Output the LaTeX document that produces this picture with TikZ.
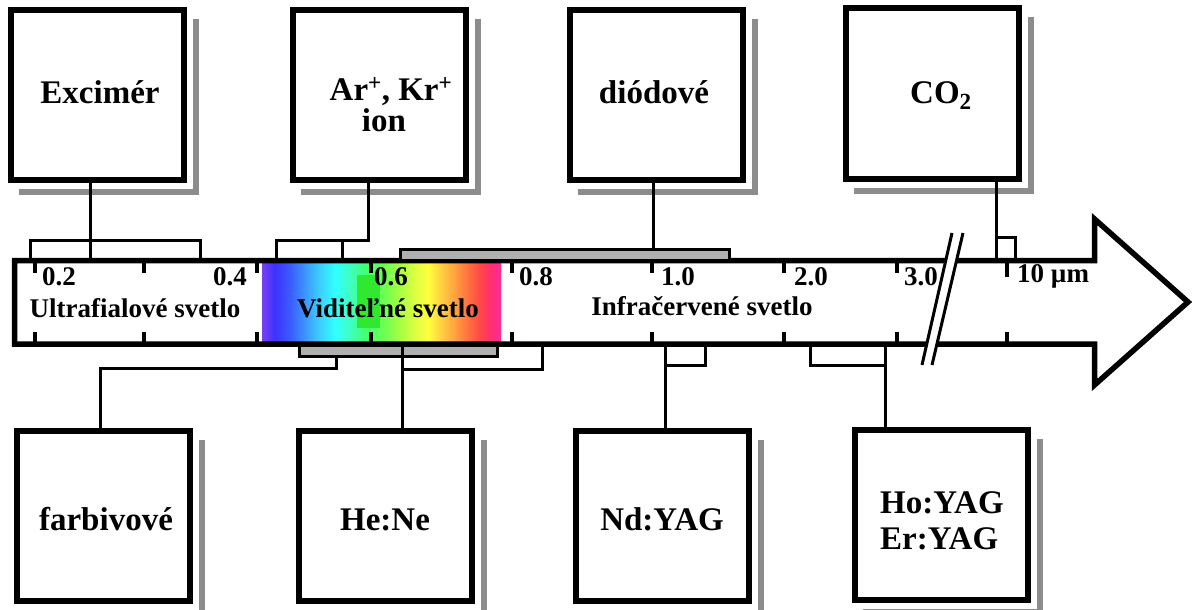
\documentclass[tikz,border=0pt]{standalone}
\usepackage{fontspec}
\setmainfont{Liberation Serif}
\usetikzlibrary{calc}
\definecolor{shadowgray}{HTML}{8C8C8C}
\definecolor{rangegray}{HTML}{B0B0B0}
\definecolor{sA}{HTML}{7A40F0}
\definecolor{sB}{HTML}{3C32FF}
\definecolor{sC}{HTML}{3A5CFF}
\definecolor{sD}{HTML}{3C96FF}
\definecolor{sE}{HTML}{3CD0FF}
\definecolor{sF}{HTML}{30FFFF}
\definecolor{sG}{HTML}{40FFC0}
\definecolor{sH}{HTML}{40FF70}
\definecolor{sI}{HTML}{70FF50}
\definecolor{sJ}{HTML}{A8FF40}
\definecolor{sK}{HTML}{DDFF40}
\definecolor{sL}{HTML}{FFFF40}
\definecolor{sM}{HTML}{FFCC40}
\definecolor{sN}{HTML}{FFA040}
\definecolor{sO}{HTML}{FF7040}
\definecolor{sP}{HTML}{FF4848}
\definecolor{sQ}{HTML}{FF3070}
\definecolor{sR}{HTML}{FF2A9A}
\definecolor{patchgreen}{HTML}{30E830}
\pgfdeclarehorizontalshading{spectrum}{100bp}{color(0bp)=(sA); color(25bp)=(sA); color(27.72bp)=(sB); color(30.86bp)=(sC); color(34bp)=(sD); color(37.13bp)=(sE); color(40.27bp)=(sF); color(43.41bp)=(sG); color(46.55bp)=(sH); color(50.73bp)=(sI); color(53.87bp)=(sJ); color(57bp)=(sK); color(59.73bp)=(sL); color(62.66bp)=(sM); color(65.38bp)=(sN); color(68.1bp)=(sO); color(70.61bp)=(sP); color(72.7bp)=(sQ); color(75bp)=(sR); color(100bp)=(sR)}
\tikzset{
  boxst/.style={draw, line width=6pt, fill=white, minimum width=173pt, minimum height=170pt, inner sep=0pt},
  shad/.style={draw=shadowgray, line width=6pt},
  conn/.style={line width=3pt},
  tickst/.style={line width=3.5pt},
  barline/.style={line width=5.5pt, line join=miter},
  gbar/.style={draw, line width=3pt, fill=rangegray, inner sep=0pt},
  bigtxt/.style={font=\fontsize{33}{36}\selectfont\bfseries, inner sep=0pt},
  bartxt/.style={font=\fontsize{27}{30}\selectfont\bfseries, inner sep=0pt},
}
\begin{document}
\begin{tikzpicture}[x=1pt,y=-1pt]
\clip (0,0) rectangle (1196,610);
\fill[white] (0,0) rectangle (1196,610);

% spectrum
\fill[shading=spectrum] (262,260.5) rectangle (501,344);
\fill[patchgreen] (357,275) rectangle (380,328);

% bar with arrow head
\draw[barline] (14.5,260.5) -- (1094.5,260.5) -- (1094.5,219) -- (1188,302) -- (1094.5,385) -- (1094.5,344) -- (14.5,344) -- cycle;

% ticks
\foreach \x in {35,144,257,371,512,652,784,897} {
  \draw[tickst] (\x,260.5) -- (\x,273);
  \draw[tickst] (\x,332) -- (\x,344);
}
\draw[tickst] (1007,260.5) -- (1007,277);
\draw[tickst] (1007,332) -- (1007,344);

% break
\fill[white] (952,233) -- (963,233) -- (932,365) -- (922,365) -- cycle;
\draw[conn] (952,233) -- (922,365);
\draw[conn] (963,233) -- (932,365);

% range bars
\node[gbar, minimum width=329pt, minimum height=11pt] (g1) at (564.5,254.5) {};
\node[gbar, minimum width=198pt, minimum height=11pt] (g2) at (398,350.5) {};

% boxes
\node[boxst] (b1) at (97.5,95) {};
\node[boxst] (b2) at (379,95) {};
\node[boxst] (b3) at (656,95) {};
\node[boxst] (b4) at (932.5,93.5) {};
\node[boxst] (b5) at (103.5,516) {};
\node[boxst] (b6) at (385,516) {};
\node[boxst] (b7) at (662.5,516) {};
\node[boxst] (b8) at (941,515) {};
\foreach \b in {b1,b2,b3,b4,b5,b6,b7,b8} {
  \draw[shad] ($(\b.south west)+(11,9)$) -- ($(\b.south east)+(9,9)$) -- ($(\b.north east)+(9,12)$);
}

% connectors
\coordinate (x1a) at (30,260);
\coordinate (x1b) at (200,260);
\coordinate (x1c) at (90,260);
\coordinate (x1h) at (0,240);
\draw[conn] (b1.south -| x1c) -- (x1c);
\draw[conn] (x1a) -- (x1a |- x1h) -- (x1b |- x1h) -- (x1b);

\coordinate (x2a) at (276,260);
\coordinate (x2b) at (342,260);
\coordinate (x2c) at (368,240);
\draw[conn] (b2.south -| x2c) -- (x2c) -- (x2a |- x2c) -- (x2a);
\draw[conn] (x2b |- x2c) -- (x2b);

\coordinate (x3c) at (653,0);
\draw[conn] (b3.south -| x3c) -- (g1.north -| x3c);

\coordinate (x4a) at (996,260);
\coordinate (x4b) at (1015,260);
\coordinate (x4h) at (0,237);
\draw[conn] (b4.south -| x4a) -- (x4a);
\draw[conn] (x4a |- x4h) -- (x4b |- x4h) -- (x4b);

\coordinate (x5a) at (336,0);
\coordinate (x5c) at (100,0);
\coordinate (x5h) at (0,368);
\draw[conn] (g2.south -| x5a) -- (x5a |- x5h) -- (x5c |- x5h) -- (b5.north -| x5c);

\coordinate (x6a) at (402,344);
\coordinate (x6b) at (542,344);
\coordinate (x6h) at (0,369);
\draw[conn] (x6a) -- (b6.north -| x6a);
\draw[conn] (x6b) -- (x6b |- x6h) -- (x6a |- x6h);

\coordinate (x7a) at (665,344);
\coordinate (x7b) at (705,344);
\coordinate (x7h) at (0,365);
\draw[conn] (x7a) -- (b7.north -| x7a);
\draw[conn] (x7b) -- (x7b |- x7h) -- (x7a |- x7h);

\coordinate (x8a) at (810,344);
\coordinate (x8b) at (885,344);
\coordinate (x8h) at (0,365);
\draw[conn] (x8b) -- (b8.north -| x8b);
\draw[conn] (x8a) -- (x8a |- x8h) -- (x8b |- x8h);

% box texts
\node[bigtxt, anchor=base] (t1) at (100,103) {Excimér};
\node[bigtxt, anchor=base] (t2) at (391,100) {Ar\textsuperscript{+}, Kr\textsuperscript{+}};
\node[bigtxt, anchor=base] (t2b) at (384,131) {ion};
\node[bigtxt, anchor=base] (t3) at (654,103) {diódové};
\node[bigtxt, anchor=base west] (t4) at (910,103) {CO\textsubscript{2}};
\node[bigtxt, anchor=base] (t5) at (106,530) {farbivové};
\node[bigtxt, anchor=base] (t6) at (385,530) {He:Ne};
\node[bigtxt, anchor=base] (t7) at (662,530) {Nd:YAG};
\node[bigtxt, anchor=base west] (t8) at (880,513) {Ho:YAG};
\node[bigtxt, anchor=base west] (t8b) at (880,549) {Er:YAG};

% scale labels
\node[bartxt, anchor=base west] (n1) at (42,285) {0.2};
\node[bartxt, anchor=base west] (n2) at (213,285) {0.4};
\node[bartxt, anchor=base west] (n3) at (374,285) {0.6};
\node[bartxt, anchor=base west] (n4) at (519,285) {0.8};
\node[bartxt, anchor=base west] (n5) at (661,285) {1.0};
\node[bartxt, anchor=base west] (n6) at (794,285) {2.0};
\node[bartxt, anchor=base west] (n7) at (904,285) {3.0};
\node[bartxt, anchor=base west] (n8) at (1017,282) {10 µm};
\node[bartxt, anchor=base] (w1) at (135,317) {Ultrafialové svetlo};
\node[bartxt, anchor=base] (w2) at (388,317) {Viditeľné svetlo};
\node[bartxt, anchor=base] (w3) at (702,315) {Infračervené svetlo};
\end{tikzpicture}
\end{document}
